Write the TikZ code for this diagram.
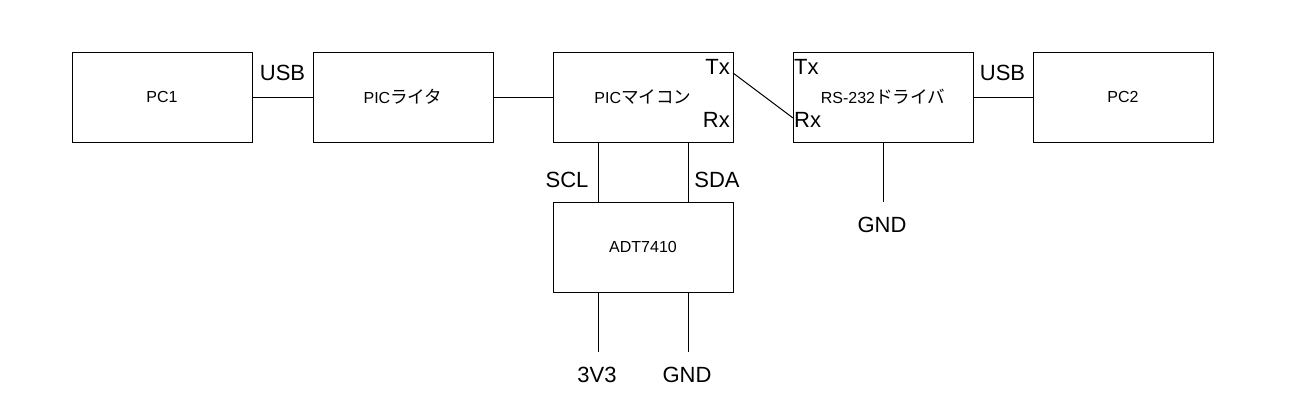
\documentclass[tikz,border=0pt]{standalone}
\usepackage{fontspec}
\setmainfont{Liberation Sans}
\newfontfamily\jp[Scale=1.1]{Noto Sans CJK JP}
\begin{document}
\begin{tikzpicture}[x=1pt,y=-1pt,
  blk/.style={draw,line width=1pt,minimum width=180pt,minimum height=90pt,inner sep=0pt,font=\fontsize{16}{19}\selectfont},
  lbl/.style={inner sep=0pt,anchor=base,font=\fontsize{22}{26}\selectfont},
  wire/.style={line width=1pt}]
\useasboundingbox (0,0) rectangle (1294,400);
\node[blk] (pc1) at (162,97) {PC1};
\node[blk] (wr) at (403,97) {PIC{\jp ライタ}};
\node[blk] (mcu) at (643,97) {PIC{\jp マイコン}};
\node[blk] (rs) at (883,97) {RS-232{\jp ドライバ}};
\node[blk] (pc2) at (1123,97) {PC2};
\node[blk] (adt) at (643,247) {ADT7410};
% labels
\node[lbl] (usb1) at (282.5,80) {USB};
\node[lbl] (usb2) at (1002.5,80) {USB};
\node[lbl,anchor=base east] (tx1) at (730,74) {Tx};
\node[lbl,anchor=base east] (rx1) at (730,127) {Rx};
\node[lbl,anchor=base west] (tx2) at (794,74) {Tx};
\node[lbl,anchor=base west] (rx2) at (794,127) {Rx};
\node[lbl] (scl) at (567,187) {SCL};
\node[lbl] (sda) at (717,187) {SDA};
\node[lbl] (gnd1) at (882,232) {GND};
\node[lbl] (v33) at (597,382) {3V3};
\node[lbl] (gnd2) at (687,382) {GND};
% connectors
\draw[wire] (pc1) -- (wr);
\draw[wire] (wr) -- (mcu);
\draw[wire] (rs) -- (pc2);
\coordinate (txp) at (733,73);
\coordinate (rxp) at (793,118);
\draw[wire] (txp) -- (rxp);
\draw[wire] ([xshift=-45pt]mcu.south) -- ([xshift=-45pt]adt.north);
\draw[wire] ([xshift=45pt]mcu.south) -- ([xshift=45pt]adt.north);
\coordinate (g1) at (883,202);
\draw[wire] (rs.south) -- (g1);
\coordinate (p3) at (598,352);
\coordinate (p4) at (688,352);
\draw[wire] (adt.south -| p3) -- (p3);
\draw[wire] (adt.south -| p4) -- (p4);
\end{tikzpicture}
\end{document}
